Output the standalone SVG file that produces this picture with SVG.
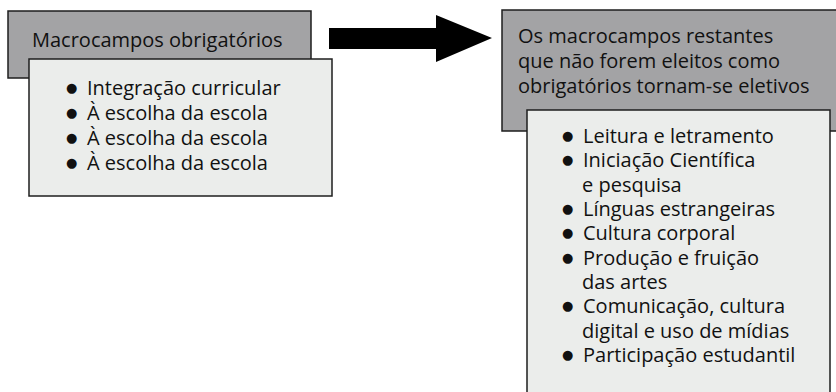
<svg xmlns="http://www.w3.org/2000/svg" width="836" height="392" viewBox="0 0 836 392">
<style>
.dark{fill:#a3a3a5;stroke:#1e1e1e;stroke-width:1.5}
.light{fill:#ebedeb;stroke:#1e1e1e;stroke-width:1.5}
text{font-family:"Open Sans","Noto Sans","DejaVu Sans",sans-serif;font-size:20px;fill:#111}
.b{font-size:13px}
</style>
<rect width="836" height="392" fill="#ffffff"/>
<g id="obrigatorios">
<rect class="dark" x="8" y="11" width="303" height="67"/>
<text x="32" y="47">Macrocampos obrigatórios</text>
</g>
<g id="lista-obrigatorios">
<rect class="light" x="29" y="59" width="303" height="137"/>
<text y="95"><tspan class="b" x="66" dy="-3">●</tspan><tspan x="87" dy="3">Integração curricular</tspan></text>
<text y="120"><tspan class="b" x="66" dy="-3">●</tspan><tspan x="87" dy="3">À escolha da escola</tspan></text>
<text y="145"><tspan class="b" x="66" dy="-3">●</tspan><tspan x="87" dy="3">À escolha da escola</tspan></text>
<text y="170"><tspan class="b" x="66" dy="-3">●</tspan><tspan x="87" dy="3">À escolha da escola</tspan></text>
</g>
<g id="connectors">
<polygon points="329,28 436,28 436,15 492,38 436,62 436,49 329,49" fill="#000"/>
</g>
<g id="eletivos">
<rect class="dark" x="502" y="10" width="340" height="121"/>
<text x="518" y="43">Os macrocampos restantes</text>
<text x="518" y="68">que não forem eleitos como</text>
<text x="518" y="93">obrigatórios tornam-se eletivos</text>
</g>
<g id="lista-eletivos">
<rect class="light" x="527" y="110" width="303" height="300"/>
<text y="143"><tspan class="b" x="562" dy="-3">●</tspan><tspan x="583" dy="3">Leitura e letramento</tspan></text>
<text y="167"><tspan class="b" x="562" dy="-3">●</tspan><tspan x="583" dy="3">Iniciação Científica</tspan></text>
<text x="582" y="192">e pesquisa</text>
<text y="216"><tspan class="b" x="562" dy="-3">●</tspan><tspan x="583" dy="3">Línguas estrangeiras</tspan></text>
<text y="240"><tspan class="b" x="562" dy="-3">●</tspan><tspan x="583" dy="3">Cultura corporal</tspan></text>
<text y="265"><tspan class="b" x="562" dy="-3">●</tspan><tspan x="583" dy="3">Produção e fruição</tspan></text>
<text x="582" y="289">das artes</text>
<text y="313"><tspan class="b" x="562" dy="-3">●</tspan><tspan x="583" dy="3">Comunicação, cultura</tspan></text>
<text x="582" y="338">digital e uso de mídias</text>
<text y="362"><tspan class="b" x="562" dy="-3">●</tspan><tspan x="583" dy="3">Participação estudantil</tspan></text>
</g>
</svg>
